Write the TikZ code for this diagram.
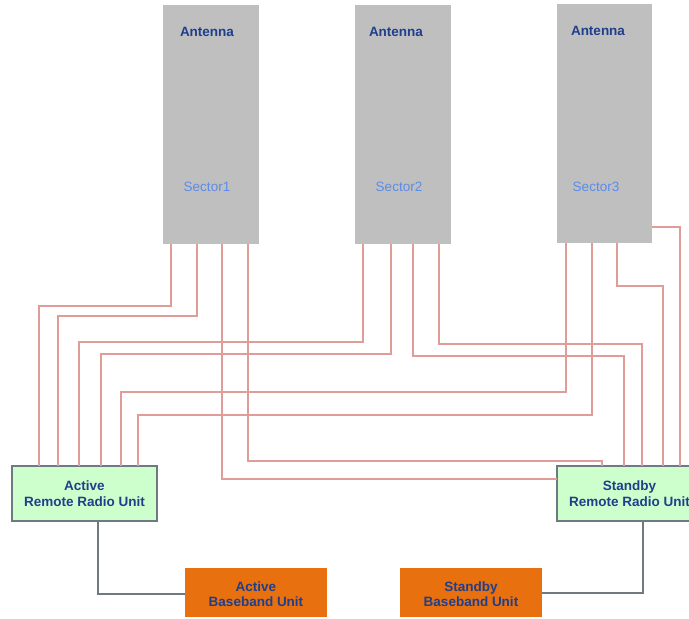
\documentclass[tikz,border=0pt]{standalone}
\usepackage{fontspec}
\setmainfont{Liberation Sans}
\definecolor{antgray}{HTML}{BFBFBF}
\definecolor{feeder}{HTML}{E09C96}
\definecolor{unitgreen}{HTML}{CCFFCC}
\definecolor{unitedge}{HTML}{6E7A82}
\definecolor{bbuorange}{HTML}{E8700E}
\definecolor{labelblue}{HTML}{1F3F8C}
\definecolor{sectorblue}{HTML}{5A8CEB}
\tikzset{
  antenna/.style={fill=antgray, draw=none, minimum width=96pt, minimum height=239pt, inner sep=0pt, outer sep=0pt},
  antlabel/.style={font=\fontsize{13.5}{15}\selectfont\bfseries, text=labelblue, inner sep=0pt},
  seclabel/.style={font=\fontsize{13.5}{15}\selectfont, text=sectorblue, inner sep=0pt},
  rru/.style={fill=unitgreen, draw=unitedge, line width=2pt, minimum width=145pt, minimum height=55pt, inner sep=0pt, outer sep=0pt,
    align=center, font=\fontsize{13.5}{15.5}\selectfont\bfseries, text=labelblue},
  bbu/.style={fill=bbuorange, draw=none, minimum width=142pt, minimum height=49pt, inner sep=0pt, outer sep=0pt,
    align=center, font=\fontsize{13.5}{15.5}\selectfont\bfseries, text=labelblue},
  bbutext/.style={align=center, inner sep=0pt, font=\fontsize{13.5}{15.5}\selectfont\bfseries, text=labelblue},
  feed/.style={draw=feeder, line width=2pt},
  link/.style={draw=unitedge, line width=2.4pt}
}
\begin{document}
\begin{tikzpicture}[x=1pt,y=-1pt]
\useasboundingbox (0,0) rectangle (689,619);

% antennas
\node[antenna] (ant1) at (211,124.5) {};
\node[antenna] (ant2) at (402.5,124.5) {};
\node[antenna, minimum width=95pt] (ant3) at (604.5,123.5) {};
\node[antlabel] (ant1t) at (207,31.5) {Antenna};
\node[antlabel] (ant2t) at (396,31.5) {Antenna};
\node[antlabel] (ant3t) at (598,30.5) {Antenna};
\node[seclabel] (sec1) at (207,186.5) {Sector1};
\node[seclabel] (sec2) at (399,186.5) {Sector2};
\node[seclabel] (sec3) at (596,186.5) {Sector3};

% radio units and baseband units
\node[rru] (arru) at (84.5,493.5) {Active\\Remote Radio Unit};
\node[rru] (srru) at (629.5,493.5) {Standby\\Remote Radio Unit};
\node[bbu] (abbu) at (256,592.5) {};
\node[bbu] (sbbu) at (471,592.5) {};
\node[bbutext] (abbut) at (256,594) {Active\\Baseband Unit};
\node[bbutext] (sbbut) at (471,594) {Standby\\Baseband Unit};

% feeders from sector 1
\draw[feed] (ant1.south -| 171,0) |- (39,306) -- (arru.north -| 39,0);
\draw[feed] (ant1.south -| 197,0) |- (58,316) -- (arru.north -| 58,0);
\draw[feed] (ant1.south -| 222,0) |- (srru.west |- 0,479);
\draw[feed] (ant1.south -| 248,0) |- (602,461) -- (srru.north -| 602,0);
% feeders from sector 2
\draw[feed] (ant2.south -| 363,0) |- (79,342) -- (arru.north -| 79,0);
\draw[feed] (ant2.south -| 391,0) |- (101,354) -- (arru.north -| 101,0);
\draw[feed] (ant2.south -| 413,0) |- (624,356) -- (srru.north -| 624,0);
\draw[feed] (ant2.south -| 439,0) |- (642,344) -- (srru.north -| 642,0);
% feeders from sector 3
\draw[feed] (ant3.south -| 566,0) |- (121,392) -- (arru.north -| 121,0);
\draw[feed] (ant3.south -| 592,0) |- (138,415) -- (arru.north -| 138,0);
\draw[feed] (ant3.south -| 617,0) |- (663,286) -- (srru.north -| 663,0);
\draw[feed] (ant3.east |- 0,227) -- (680,227) -- (srru.north -| 680,0);

% radio unit to baseband unit links
\draw[link] (arru.south -| 98,0) |- (abbu.west |- 0,594);
\draw[link] (srru.south -| 643,0) |- (sbbu.east |- 0,593);
\end{tikzpicture}
\end{document}
